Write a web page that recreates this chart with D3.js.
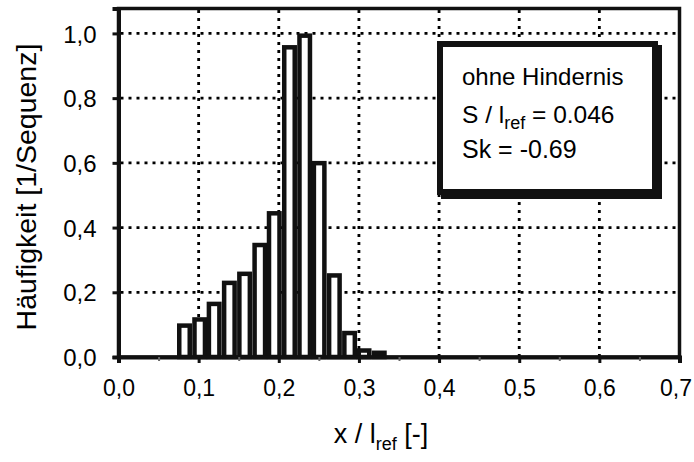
<!DOCTYPE html>
<html><head><meta charset="utf-8">
<script src="https://cdn.jsdelivr.net/npm/d3@7"></script>
<style>
body{margin:0;background:#fff}
svg{display:block}
text{font-family:"Liberation Sans",Arial,sans-serif;fill:#000}
</style>
</head><body><svg id="c" width="694" height="462"></svg>
<script>
// ---- data ----
const binStarts = [0.073,0.092,0.110,0.129,0.148,0.167,0.185,0.204,0.223,0.241,0.260,0.279,0.297,0.316];
const binWidth = 0.0187;
const frequencies = [0.104,0.123,0.171,0.236,0.264,0.353,0.451,0.964,1.000,0.606,0.259,0.081,0.027,0.020];
const xTicks = [0,0.1,0.2,0.3,0.4,0.5,0.6,0.7];
const xMinorTicks = [0.05,0.15,0.25,0.35,0.45,0.55,0.65];
const yTicks = [0,0.2,0.4,0.6,0.8,1.0];
const legendTitle = "ohne Hindernis";
const legendS = ["S / l","ref"," = 0.046"];
const legendSk = "Sk = -0.69";
const yTitle = "Häufigkeit [1/Sequenz]";
const xTitle = ["x / l","ref"," [-]"];

// ---- layout ----
const svg = d3.select("#c");
const L = 118.5, R = 679.5, T = 8.5, B = 357;
const x = d3.scaleLinear().domain([0,0.7]).range([L,R]);
const y = d3.scaleLinear().domain([0,1.077]).range([B,T]);
const fmt = d => d3.format(".1f")(d).replace(".", ",");

// gridlines
const grid = svg.append("g").attr("stroke","#000").attr("stroke-width",2.8).attr("stroke-dasharray","3,5");
grid.selectAll("line.h").data(yTicks.filter(d=>d>0)).join("line")
  .attr("x1",L+2).attr("x2",R).attr("y1",d=>y(d)).attr("y2",d=>y(d));
grid.selectAll("line.v").data(xTicks.filter(d=>d>0 && d<0.7)).join("line")
  .attr("y1",B).attr("y2",T).attr("x1",d=>x(d)).attr("x2",d=>x(d));

// bars
const bw = 4.5;
const bars = svg.append("g");
bars.selectAll("rect").data(binStarts.map((s,i)=>({s, v:frequencies[i]}))).join("rect")
  .attr("x", d => x(d.s) + bw/2)
  .attr("width", d => x(d.s+binWidth) - x(d.s) - bw)
  .attr("y", d => y(d.v) + bw/2)
  .attr("height", d => B - y(d.v) - bw/2)
  .attr("fill","#fff").attr("stroke","#111").attr("stroke-width",bw);

// frame
svg.append("rect").attr("x",L).attr("y",T).attr("width",R-L).attr("height",B-T)
  .attr("fill","none").attr("stroke","#111").attr("stroke-width",3.5);

// axes
const xAxis = svg.append("g").attr("transform",`translate(0,${B})`)
  .call(d3.axisBottom(x).tickValues(xTicks).tickSize(6).tickFormat(fmt));
xAxis.select(".domain").attr("stroke","#111").attr("stroke-width",4);
xAxis.selectAll(".tick line").attr("stroke","#111").attr("stroke-width",3);
xAxis.selectAll(".tick text").attr("font-size",23).attr("dy",0).attr("y",39)
  .attr("dx",(d,i,n)=> i===n.length-1 ? -4 : 0)
  .attr("font-family","'Liberation Sans',Arial,sans-serif").attr("fill","#000");
const xMinor = svg.append("g").attr("transform",`translate(0,${B})`)
  .call(d3.axisBottom(x).tickValues(xMinorTicks).tickSize(4).tickFormat(""));
xMinor.select(".domain").remove();
xMinor.selectAll(".tick line").attr("stroke","#666").attr("stroke-width",2);

const yAxis = svg.append("g").attr("transform",`translate(${L},0)`)
  .call(d3.axisLeft(y).tickValues(yTicks).tickSize(6).tickFormat(fmt));
yAxis.select(".domain").attr("stroke","#111").attr("stroke-width",4);
yAxis.selectAll(".tick line").attr("stroke","#111").attr("stroke-width",3);
yAxis.selectAll(".tick text").attr("font-size",24).attr("x",-22).attr("dy","0.36em")
  .attr("font-family","'Liberation Sans',Arial,sans-serif").attr("fill","#000");

// axis titles
svg.append("text").attr("transform","translate(36,187) rotate(-90)")
  .attr("text-anchor","middle").attr("font-size",28.5).text(yTitle);
const xt = svg.append("text").attr("x",381).attr("y",443).attr("text-anchor","middle").attr("font-size",27);
xt.append("tspan").text(xTitle[0]);
xt.append("tspan").attr("font-size",18).attr("dy",7).text(xTitle[1]);
xt.append("tspan").attr("dy",-7).text(xTitle[2]);

// legend box
const lg = svg.append("g");
lg.append("rect").attr("x",441).attr("y",45).attr("width",221).attr("height",154).attr("fill","#111");
lg.append("rect").attr("x",440).attr("y",44).attr("width",215).attr("height",148)
  .attr("fill","#fff").attr("stroke","#111").attr("stroke-width",6);
lg.append("text").attr("x",462).attr("y",85).attr("font-size",24).text(legendTitle);
const ls = lg.append("text").attr("x",462).attr("y",123).attr("font-size",24.5);
ls.append("tspan").text(legendS[0]);
ls.append("tspan").attr("font-size",18).attr("dy",6).text(legendS[1]);
ls.append("tspan").attr("dy",-6).text(legendS[2]);
lg.append("text").attr("x",462).attr("y",158).attr("font-size",25).text(legendSk);
</script>
</body></html>
